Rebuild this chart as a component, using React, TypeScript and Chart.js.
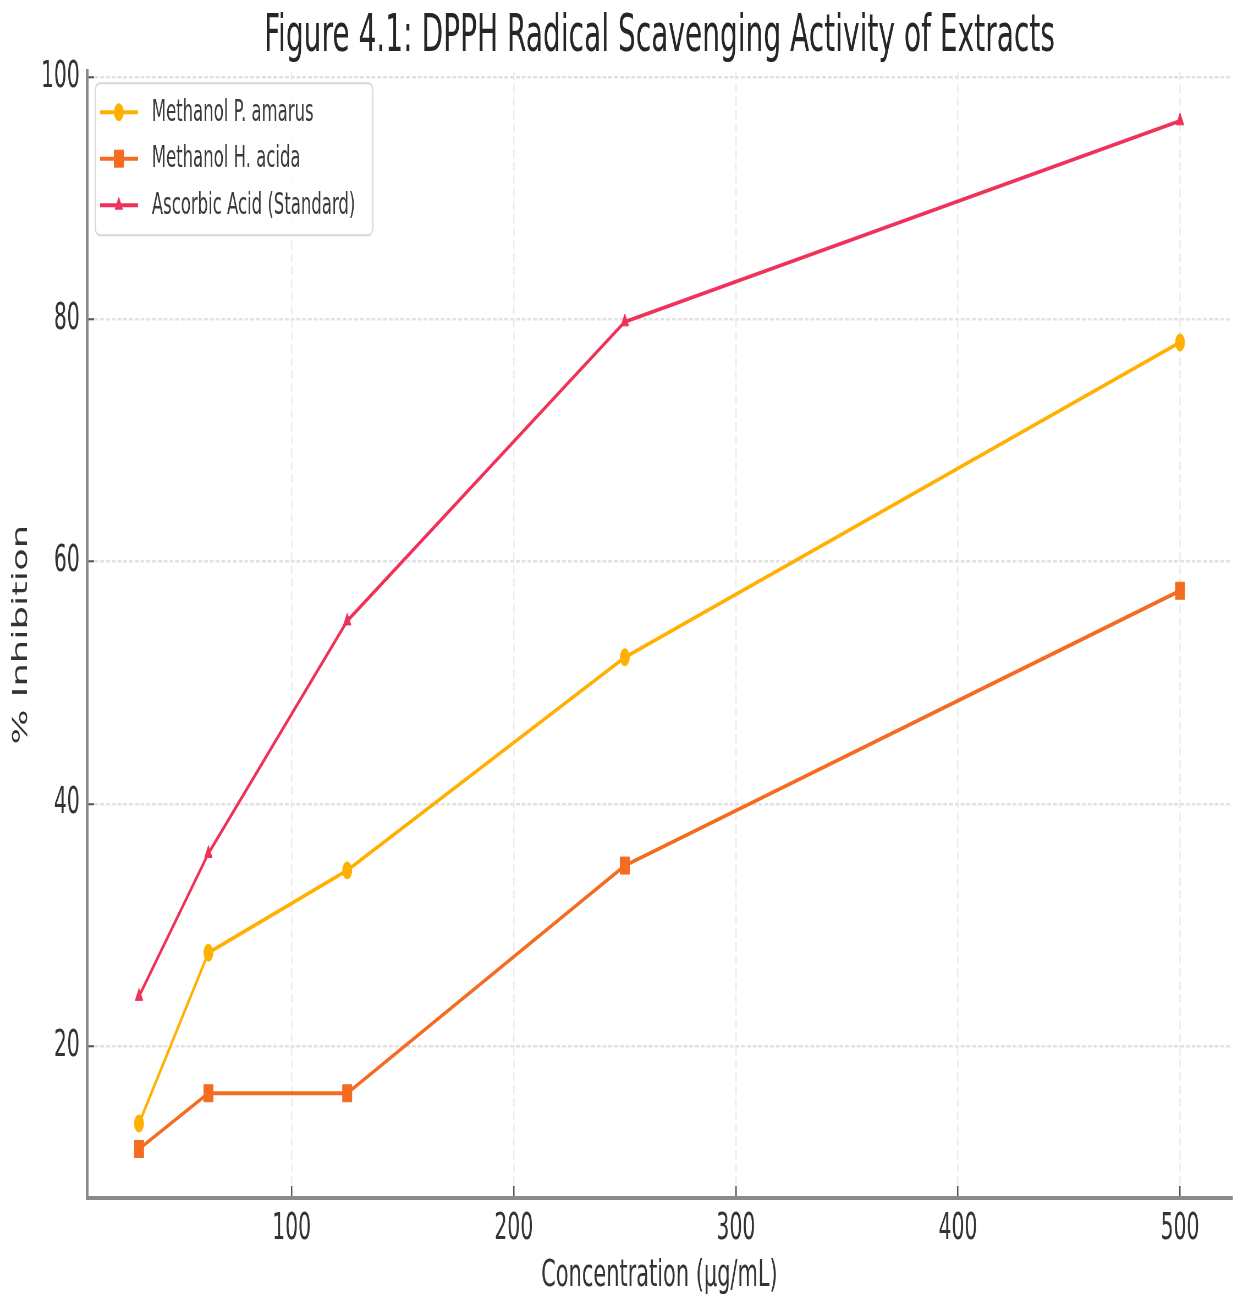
import Chart from "chart.js/auto"
import { drawPoint } from "chart.js/helpers"
import { useEffect, useRef } from "react"

Chart.defaults.font.family = "'DejaVu Sans', sans-serif"

// concentrations in µg/mL and % inhibition
const concentrations = [31.25, 62.5, 125, 250, 500]
const pAmarus = [13.6, 27.7, 34.5, 52.1, 78.1]
const hAcida = [11.5, 16.1, 16.1, 34.9, 57.6]
const ascorbic = [24.1, 35.9, 55.1, 79.8, 96.4]
const seriesLabels = ["Methanol P. amarus", "Methanol H. acida", "Ascorbic Acid (Standard)"]
const xTicks = [100, 200, 300, 400, 500]
const yTicks = [20, 40, 60, 80, 100]

// the source image is squeezed horizontally, so draw wide and shrink with css
const CSS_W = 1243
const CSS_H = 1309
const DRAW_W = 2260

const toPoints = (ys: number[]) => concentrations.map((x, i) => ({ x, y: ys[i] }))

const boxLegend = {
    id: "boxLegend",
    afterDatasetsDraw(chart: any) {
        const { ctx, chartArea } = chart
        const bx = chartArea.left + 15
        const by = chartArea.top + 12
        ctx.save()
        ctx.beginPath()
        ctx.roundRect(bx, by, 505, 152, 8)
        ctx.fillStyle = "rgba(255,255,255,0.85)"
        ctx.fill()
        ctx.strokeStyle = "#d6d6d6"
        ctx.lineWidth = 2
        ctx.stroke()
        chart.data.datasets.forEach((ds: any, i: number) => {
            const ry = by + 29 + i * 46.5
            ctx.strokeStyle = ds.borderColor
            ctx.lineWidth = ds.borderWidth
            ctx.beginPath()
            ctx.moveTo(bx + 9, ry)
            ctx.lineTo(bx + 78, ry)
            ctx.stroke()
            ctx.fillStyle = ds.pointBackgroundColor
            ctx.strokeStyle = ds.borderColor
            ctx.lineWidth = 1
            drawPoint(ctx, { pointStyle: ds.pointStyle, radius: ds.pointRadius, rotation: 0, borderWidth: 1 } as any, bx + 43, ry)
            ctx.fillStyle = "#3a3a3a"
            ctx.font = "30px 'DejaVu Sans'"
            ctx.textBaseline = "middle"
            ctx.textAlign = "left"
            ctx.fillText(ds.label, bx + 103, ry + 1)
        })
        ctx.restore()
    }
}

const DpphChart = () => {
    const chartRef = useRef<HTMLCanvasElement>(null)
    useEffect(() => {
        if (!chartRef.current)
            return
        const chart = new Chart(chartRef.current, {
            type: "line",
            data: {
                datasets: [
                    {
                        label: seriesLabels[0],
                        data: toPoints(pAmarus),
                        borderColor: "#ffb000",
                        backgroundColor: "#ffb000",
                        pointBackgroundColor: "#ffb000",
                        borderWidth: 4,
                        pointStyle: "circle",
                        pointRadius: 8.5,
                        pointBorderWidth: 1,
                    },
                    {
                        label: seriesLabels[1],
                        data: toPoints(hAcida),
                        borderColor: "#f36c21",
                        backgroundColor: "#f36c21",
                        pointBackgroundColor: "#f36c21",
                        borderWidth: 4,
                        pointStyle: "rect",
                        pointRadius: 12,
                        pointBorderWidth: 1,
                    },
                    {
                        label: seriesLabels[2],
                        data: toPoints(ascorbic),
                        borderColor: "#f0325a",
                        backgroundColor: "#f0325a",
                        pointBackgroundColor: "#f0325a",
                        borderWidth: 4,
                        pointStyle: "triangle",
                        pointRadius: 8,
                        pointBorderWidth: 1,
                    },
                ] as any
            },
            options: {
                animation: false,
                responsive: false,
                maintainAspectRatio: false,
                devicePixelRatio: 1,
                layout: { padding: { top: 0, right: 20, bottom: 0, left: 0 } },
                elements: { line: { tension: 0 } },
                plugins: {
                    legend: { display: false },
                    tooltip: { enabled: false },
                    title: {
                        display: true,
                        text: "Figure 4.1: DPPH Radical Scavenging Activity of Extracts",
                        fullSize: false,
                        color: "#262626",
                        font: { size: 51, weight: "normal" },
                        padding: { top: 7, bottom: 3 },
                    },
                },
                scales: {
                    x: {
                        type: "linear",
                        min: 7.8,
                        max: 523.4,
                        afterBuildTicks: (s: any) => { s.ticks = xTicks.map(v => ({ value: v })) },
                        afterFit: (s: any) => { s.height = 111 },
                        ticks: { color: "#333", font: { size: 37 }, padding: 21, maxRotation: 0, autoSkip: false },
                        grid: { color: "#ebebeb", lineWidth: 2.5, tickLength: -12, tickColor: "#555", tickWidth: 2.5, tickBorderDash: [] },
                        border: { display: true, color: "#8a8a8a", width: 4, dash: [9, 4] },
                        title: { display: true, text: "Concentration (µg/mL)", color: "#333", font: { size: 38 }, padding: { top: 0, bottom: 10 } },
                    },
                    y: {
                        type: "linear",
                        min: 7.45,
                        max: 100.5,
                        afterBuildTicks: (s: any) => { s.ticks = yTicks.map(v => ({ value: v })) },
                        afterFit: (s: any) => { s.width = 158 },
                        ticks: { color: "#333", font: { size: 37 }, padding: 26 },
                        grid: { color: "#e2e2e2", lineWidth: 2.5, tickLength: -13, tickColor: "#555", tickWidth: 2, tickBorderDash: [] },
                        border: { display: true, color: "#8a8a8a", width: 5, dash: [7, 3.5] },
                        title: { display: true, text: "% Inhibition", color: "#333", font: { size: 37 }, padding: { top: 17, bottom: 0 } },
                    },
                },
            },
            plugins: [boxLegend],
        })
        return () => {
            chart.destroy()
        }
    }, [])
    return <div style={{ position: "fixed", left: 0, top: 0, width: CSS_W, height: CSS_H, background: "#fff" }}>
        <canvas ref={chartRef} width={DRAW_W} height={CSS_H} style={{ width: `${CSS_W}px`, height: `${CSS_H}px`, display: "block" }}></canvas>
    </div>
}

export default function App() {
    return <DpphChart />
}
